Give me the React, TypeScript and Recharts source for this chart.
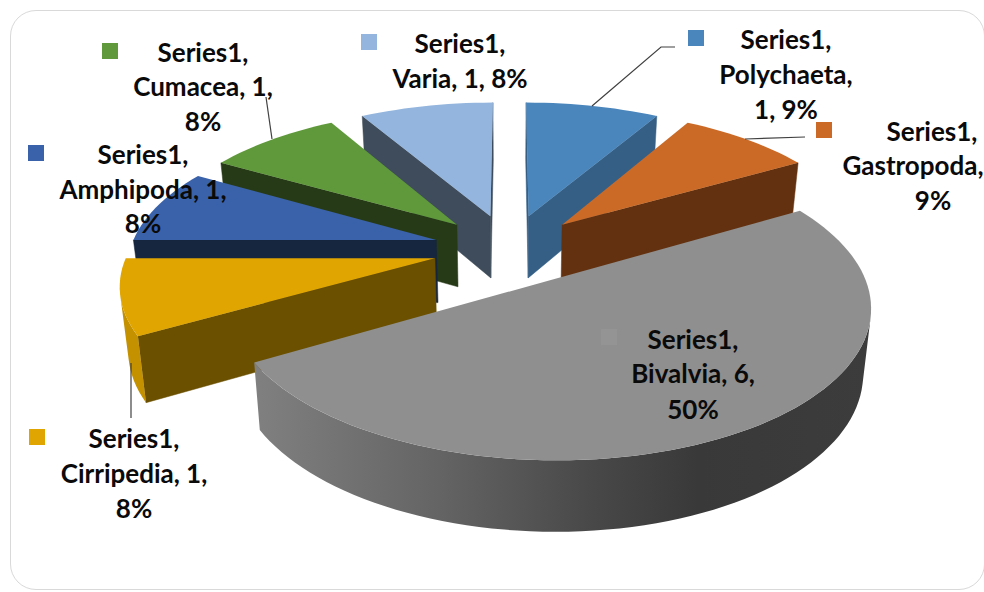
import { PieChart, Pie } from 'recharts';

const seriesName = 'Series1';
const categories = ['Polychaeta', 'Gastropoda', 'Bivalvia', 'Cirripedia', 'Amphipoda', 'Cumacea', 'Varia'];
const values = [1, 1, 6, 1, 1, 1, 1];
const labelLines = [
  [`${seriesName},`, 'Polychaeta,', '1, 9%'],
  [`${seriesName},`, 'Gastropoda,', '9%'],
  [`${seriesName},`, 'Bivalvia, 6,', '50%'],
  [`${seriesName},`, 'Cirripedia, 1,', '8%'],
  [`${seriesName},`, 'Amphipoda, 1,', '8%'],
  [`${seriesName},`, 'Cumacea, 1,', '8%'],
  [`${seriesName},`, 'Varia, 1, 8%'],
];

const topColors = ['#4A86BC', '#CB6A26', '#8F8F8F', '#E0A500', '#3A62AA', '#5F993B', '#93B5DE'];
const wallColors = ['#355F85', '#63310F', '#6A6A6A', '#6B5000', '#16263F', '#273A17', '#3E4C5B'];
const keyColors = ['#4A86BC', '#CB6A26', '#949494', '#E0A500', '#3A62AA', '#5F993B', '#93B5DE'];
const bivalviaRim = [
  [0, '#808080'],
  [0.3, '#646464'],
  [0.55, '#484848'],
  [0.72, '#393939'],
  [1, '#3C3C3C'],
];

// far slices first, the big one has to sit over everything
const paintOrder = ['Polychaeta', 'Varia', 'Gastropoda', 'Cumacea', 'Amphipoda', 'Cirripedia', 'Bivalvia'];

const rows = categories.map((name, i) => ({ name, value: values[i], fill: topColors[i] }));

// label placement, per category: key square, leader line, centre x and y of each line
const labelBoxes: Record<string, any> = {
  Polychaeta: { key: [688, 30, 16], leader: '592,106 661,47 675,47', xs: [786, 786, 786], ys: [39, 74, 109] },
  Gastropoda: { key: [816, 122, 16], leader: '745,139 805,137', xs: [932, 913, 933], ys: [131, 165, 200] },
  Bivalvia: { key: [601, 329, 16], xs: [693, 693, 693], ys: [339, 373, 409] },
  Cirripedia: { key: [29, 429, 16], leader: '131,363 131,418', xs: [134, 134, 134], ys: [438, 473, 508] },
  Amphipoda: { key: [28, 145, 16], xs: [143, 143, 143], ys: [154, 189, 223] },
  Cumacea: { key: [102, 43, 16], leader: '266,97 272,139', xs: [203, 203, 203], ys: [52, 86, 121] },
  Varia: { key: [361, 34, 16], xs: [460, 460], ys: [43, 78] },
};

// 3d look of the pie: perspective projection of the unit disc
const SQUASH = 0.46;
const PERSPECTIVE = 0.156;
const EXPLODE = 0.25;
const DEPTH = 63;
const FLOOR_SHRINK = 0.978;
const FLOOR_SQUASH = 1.04;

function Wedge(props: any) {
  const { cx, cy, outerRadius, startAngle, endAngle, name } = props;
  const idx = categories.indexOf(name);
  const toRad = Math.PI / 180;
  const from = 90 - startAngle;
  const to = 90 - endAngle;
  const mid = (from + to) / 2;
  const ax = EXPLODE * Math.sin(mid * toRad);
  const ay = EXPLODE * Math.cos(mid * toRad);

  const top = (u: number, v: number) => {
    const w = 1 + PERSPECTIVE * v;
    return [cx + (outerRadius * u) / w, cy - (outerRadius * SQUASH * v) / w];
  };
  const floor = (u: number, v: number) => {
    const w = 1 + PERSPECTIVE * v;
    return [
      cx + (outerRadius * FLOOR_SHRINK * u) / w,
      cy + DEPTH - (outerRadius * SQUASH * FLOOR_SQUASH * v) / w,
    ];
  };

  const world: number[][] = [];
  const steps = Math.max(6, Math.round((to - from) / 2));
  for (let s = 0; s <= steps; s++) {
    const a = (from + ((to - from) * s) / steps) * toRad;
    world.push([ax + Math.sin(a), ay + Math.cos(a)]);
  }

  const pts = (list: number[][]) => list.map((p) => p.map((n) => n.toFixed(1)).join(',')).join(' ');
  const area = (q: number[][]) =>
    q.reduce((sum, p, i) => {
      const n = q[(i + 1) % q.length];
      return sum + p[0] * n[1] - n[0] * p[1];
    }, 0);
  const quad = (a: number[], b: number[]) => [top(a[0], a[1]), top(b[0], b[1]), floor(b[0], b[1]), floor(a[0], a[1])];

  const apex = [ax, ay];
  const walls = [quad(apex, world[0]), quad(world[world.length - 1], apex)].filter((q) => area(q) < 0);

  // visible part of the curved outside wall
  const rimTop: number[][] = [];
  const rimFloor: number[][] = [];
  for (let s = 0; s < steps; s++) {
    const q = quad(world[s], world[s + 1]);
    if (area(q) < 0) {
      if (!rimTop.length) {
        rimTop.push(q[0]);
        rimFloor.push(q[3]);
      }
      rimTop.push(q[1]);
      rimFloor.push(q[2]);
    }
  }
  const rimXs = [...rimTop, ...rimFloor].map((p) => p[0]);
  const gradId = `rim-${idx}`;
  const surface = [top(apex[0], apex[1]), ...world.map((p) => top(p[0], p[1]))];

  return (
    <g>
      {walls.map((q, i) => (
        <polygon key={i} points={pts(q)} fill={wallColors[idx]} stroke={wallColors[idx]} strokeWidth={0.5} />
      ))}
      {rimTop.length > 1 && (
        <>
          <defs>
            <linearGradient
              id={gradId}
              gradientUnits="userSpaceOnUse"
              x1={Math.min(...rimXs)}
              x2={Math.max(...rimXs)}
              y1={0}
              y2={0}
            >
              {name === 'Bivalvia' ? (
                bivalviaRim.map(([o, c]) => <stop key={o} offset={o} stopColor={c as string} />)
              ) : (
                <stop offset={0} stopColor="#C49100" />
              )}
            </linearGradient>
          </defs>
          <polygon points={pts([...rimTop, ...rimFloor.slice().reverse()])} fill={`url(#${gradId})`} />
        </>
      )}
      <polygon points={pts(surface)} fill={topColors[idx]} />
    </g>
  );
}

function SliceLabel({ name }: { name: string }) {
  const idx = categories.indexOf(name);
  const box = labelBoxes[name];
  const [kx, ky, ks] = box.key;
  return (
    <g>
      {box.leader && <polyline points={box.leader} fill="none" stroke="#404040" strokeWidth={1.2} />}
      <rect x={kx} y={ky} width={ks} height={ks} fill={keyColors[idx]} />
      {labelLines[idx].map((line, i) => (
        <text
          key={i}
          x={box.xs[i]}
          y={box.ys[i]}
          textAnchor="middle"
          dominantBaseline="central"
          fontFamily="Lato, sans-serif"
          fontWeight={700}
          fontSize={26}
          fill="#0A0A0A"
        >
          {line}
        </text>
      ))}
    </g>
  );
}

export default function App() {
  return (
    <div style={{ position: 'absolute', left: 0, top: 0, width: 984, height: 592, overflow: 'hidden', background: '#fff' }}>
      <div
        style={{
          position: 'absolute',
          left: 10,
          top: 10,
          width: 975,
          height: 580,
          border: '1.5px solid #D9D9D9',
          borderRadius: 26,
          boxSizing: 'border-box',
        }}
      />
      <div style={{ position: 'absolute', left: 0, top: 0 }}>
        <PieChart width={984} height={592} margin={{ top: 0, right: 0, bottom: 0, left: 0 }}>
          {paintOrder.map((layer) => (
            <Pie
              key={layer}
              data={rows}
              dataKey="value"
              nameKey="name"
              cx={509.5}
              cy={249}
              innerRadius={0}
              outerRadius={306}
              startAngle={90}
              endAngle={-270}
              stroke="none"
              isAnimationActive={false}
              labelLine={false}
              shape={(p: any) => (p.name === layer ? <Wedge {...p} /> : <g />)}
              label={(p: any) => (p.name === layer ? <SliceLabel name={p.name} /> : <g />)}
            />
          ))}
        </PieChart>
      </div>
    </div>
  );
}
